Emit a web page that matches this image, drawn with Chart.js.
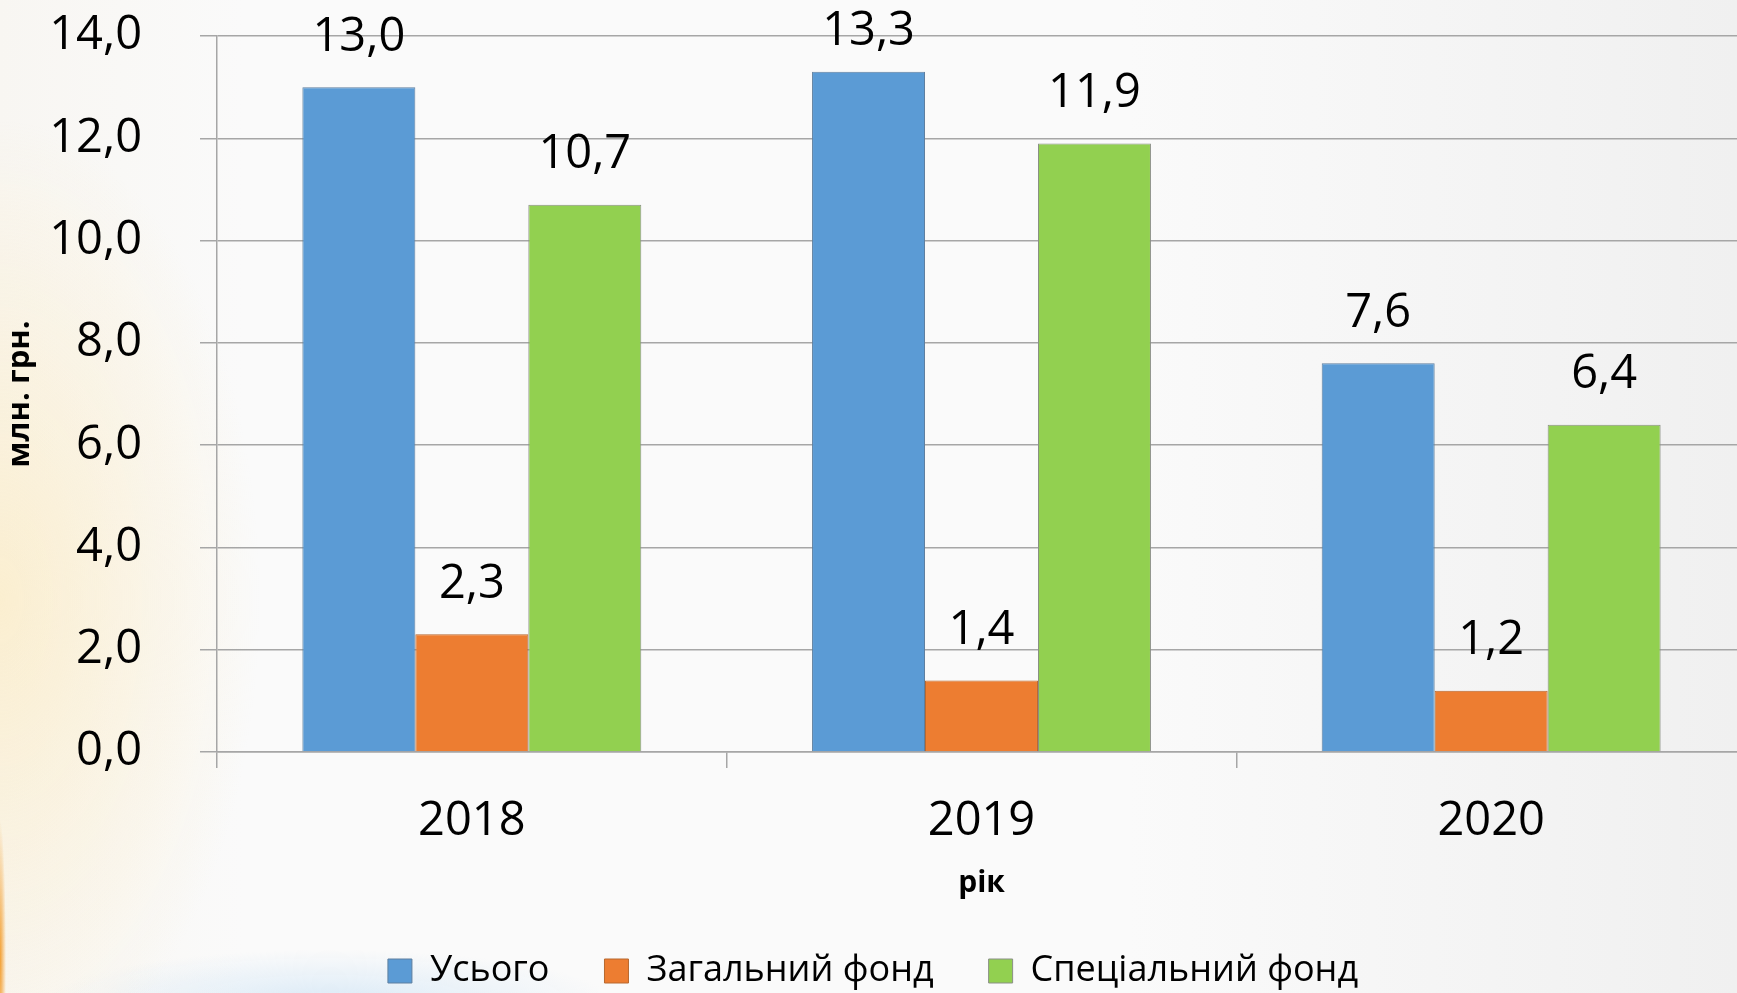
<!DOCTYPE html>
<html>
<head>
<meta charset="utf-8">
<script src="https://cdn.jsdelivr.net/npm/chart.js@4.4.0/dist/chart.umd.min.js"></script>
<style>
    html, body { margin: 0; padding: 0; overflow: hidden; }
    body {
        width: 1737px; height: 993px;
        background:
            radial-gradient(ellipse 6px 140px at 0 960px, rgba(242,150,30,0.9), rgba(242,150,30,0) 100%),
            radial-gradient(ellipse 260px 480px at 0 600px, rgba(253,232,180,0.55), rgba(253,232,180,0) 100%),
            radial-gradient(ellipse 280px 50px at 330px 1000px, rgba(200,225,245,0.6), rgba(200,225,245,0) 100%),
            linear-gradient(to right, #f8f6f2 0%, #fafafa 14%, #fafafa 65%, #f0f0f0 100%);
    }
    #wrap { position: absolute; left: 0; top: 0; width: 1760px; height: 999px; }
</style>
</head>
<body>
<div id="wrap"><canvas id="budgetChart"></canvas></div>
<script>
// млн. грн.
const years = ["2018", "2019", "2020"];
const totalVals = [13.0, 13.3, 7.6];
const generalVals = [2.3, 1.4, 1.2];
const specialVals = [10.7, 11.9, 6.4];
const yTicks = [0, 2, 4, 6, 8, 10, 12, 14];

const FONT = "'Open Sans', 'Noto Sans', sans-serif";
const GRID = '#a6a6a6';

function fmt(v) {
    return v.toFixed(1).replace('.', ',');
}

// value labels above bars (kept inside the top edge)
const barLabels = {
    id: 'barLabels',
    afterDatasetsDraw(chart) {
        let ctx = chart.ctx;
        ctx.save();
        ctx.font = "47px " + FONT;
        ctx.fillStyle = '#000';
        ctx.textAlign = 'center';
        ctx.textBaseline = 'middle';
        chart.data.datasets.forEach((ds, i) => {
            chart.getDatasetMeta(i).data.forEach((bar, j) => {
                ctx.fillText(fmt(ds.data[j]), bar.x, Math.max(bar.y - 50, 32));
            });
        });
        ctx.restore();
    }
};

let ctx = document.getElementById("budgetChart");
new Chart(ctx, {
    type: "bar",
    data: {
        labels: years,
        datasets: [
            { label: "Усього", data: totalVals, backgroundColor: '#5b9bd5', borderColor: '#5f7f9f', borderWidth: 1 },
            { label: "Загальний фонд", data: generalVals, backgroundColor: '#ed7d31', borderColor: '#b8682f', borderWidth: 1 },
            { label: "Спеціальний фонд", data: specialVals, backgroundColor: '#92d050', borderColor: '#8a8f86', borderWidth: 1 }
        ]
    },
    options: {
        responsive: true,
        maintainAspectRatio: false,
        animation: false,
        layout: { padding: { top: 36, right: 14, left: 0, bottom: 0 } },
        datasets: { bar: { categoryPercentage: 0.665, barPercentage: 1.0 } },
        plugins: {
            tooltip: { enabled: false },
            legend: {
                position: 'bottom',
                labels: {
                    boxWidth: 24,
                    boxHeight: 24,
                    padding: 55,
                    color: '#000',
                    font: { family: FONT, size: 36 }
                }
            }
        },
        scales: {
            x: {
                afterFit: (scale) => { scale.height = 146; },
                grid: { drawOnChartArea: false, drawTicks: true, tickLength: 16, color: GRID, lineWidth: 1.5 },
                border: { display: true, color: GRID, width: 1.5 },
                ticks: { color: '#000', padding: 25, font: { family: FONT, size: 47 } },
                title: { display: true, text: 'рік', color: '#000', padding: { top: 0, bottom: 0 }, font: { family: FONT, size: 30, weight: 'bold', lineHeight: 1 } }
            },
            y: {
                min: 0,
                max: 14,
                afterFit: (scale) => {
                    scale.width = 217;
                    scale.paddingTop = 0;
                    scale.paddingBottom = 0;
                },
                afterBuildTicks: (scale) => { scale.ticks = yTicks.map(v => ({ value: v })); },
                grid: { drawTicks: true, tickLength: 17, color: GRID, lineWidth: 1.5 },
                border: { display: true, color: GRID, width: 1.5 },
                ticks: { color: '#000', padding: 58, font: { family: FONT, size: 47 }, callback: (v) => fmt(v) },
                title: { display: true, text: 'млн. грн.', color: '#000', padding: { top: 5, bottom: 0 }, font: { family: FONT, size: 31, weight: 'bold', lineHeight: 1 } }
            }
        }
    },
    plugins: [barLabels]
});
</script>
</body>
</html>
